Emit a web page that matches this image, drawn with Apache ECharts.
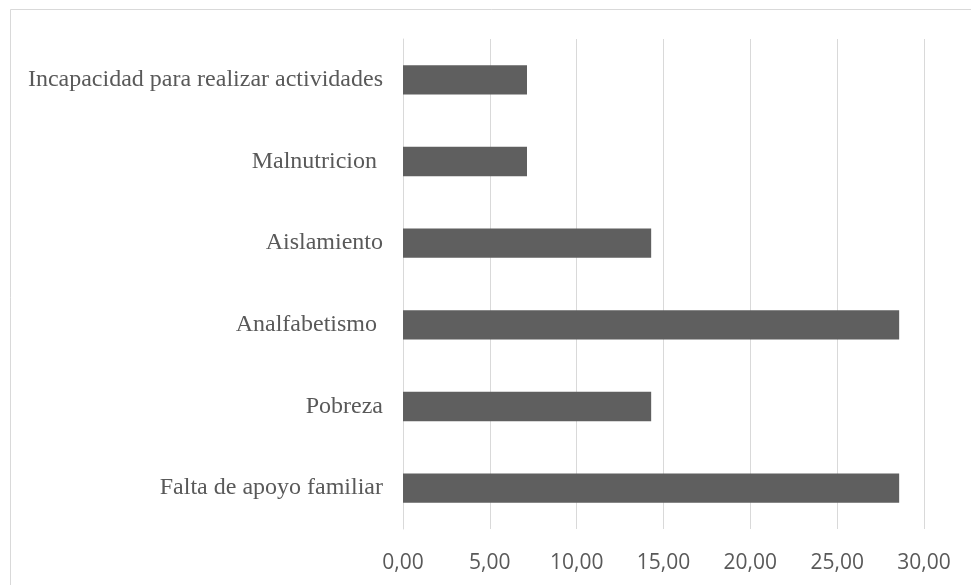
<!DOCTYPE html>
<html>
<head>
<meta charset="utf-8">
<script src="https://cdn.jsdelivr.net/npm/echarts@6/dist/echarts.min.js"></script>
<style>
  html, body { margin: 0; padding: 0; background: #fff; }
  #chart { width: 971px; height: 585px; }
</style>
</head>
<body>
<div id="chart"></div>
<script>
// Categories listed bottom to top (category axis starts at the bottom)
const categories = [
  'Falta de apoyo familiar',
  'Pobreza',
  'Analfabetismo ',
  'Aislamiento',
  'Malnutricion ',
  'Incapacidad para realizar actividades'
];
const values = [28.57, 14.29, 28.57, 14.29, 7.14, 7.14];
const xTicks = { min: 0, max: 30, step: 5 };

const chart = echarts.init(document.getElementById('chart'), null, { renderer: 'canvas' });

chart.setOption({
  backgroundColor: '#ffffff',
  animation: false,
  graphic: [{
    type: 'rect',
    silent: true,
    shape: { x: 10.5, y: 9.5, width: 1000, height: 1000 },
    style: { fill: 'none', stroke: '#d9d9d9', lineWidth: 1 }
  }],
  grid: { left: 403, right: 47, top: 39, bottom: 56, containLabel: false },
  xAxis: {
    type: 'value',
    min: xTicks.min,
    max: xTicks.max,
    interval: xTicks.step,
    axisLine: { show: false },
    axisTick: { show: false },
    splitLine: { show: true, lineStyle: { color: '#d9d9d9', width: 1 } },
    axisLabel: {
      margin: 24,
      color: '#595959',
      fontFamily: 'Open Sans',
      fontSize: 21,
      formatter: v => v.toFixed(2).replace('.', ',')
    }
  },
  yAxis: {
    type: 'category',
    data: categories,
    axisLine: { show: true, lineStyle: { color: '#d9d9d9' } },
    axisTick: { show: false },
    axisLabel: {
      margin: 20,
      color: '#595959',
      fontFamily: 'Liberation Serif',
      fontSize: 24
    }
  },
  series: [{
    type: 'bar',
    data: values,
    barCategoryGap: '64%',
    itemStyle: { color: '#5f5f5f' }
  }]
});
</script>
</body>
</html>
